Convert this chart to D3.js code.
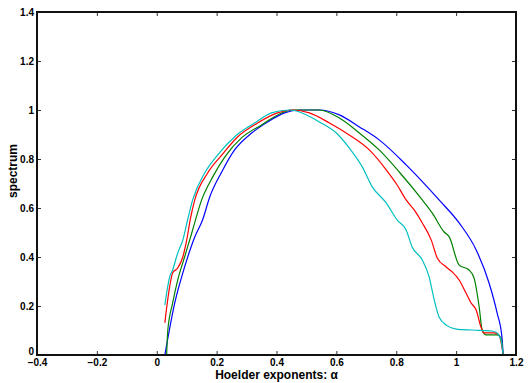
<!DOCTYPE html>
<html>
<head>
<meta charset="utf-8">
<script src="https://cdn.jsdelivr.net/npm/d3@7"></script>
<style>
  body { margin: 0; background: #fff; }
  svg { display: block; font-family: "Liberation Sans", Arial, sans-serif; }
  .axis text { font-size: 10px; font-weight: bold; fill: #000; }
  .axis path { display: none; }
  .axis line { stroke: #333; }
  .axis-title { font-size: 12px; font-weight: bold; fill: #000; }
</style>
</head>
<body>
<div id="chart"></div>
<script>
// tick labels
const xTicks = [-0.4, -0.2, 0, 0.2, 0.4, 0.6, 0.8, 1, 1.2];
const yTicks = [0, 0.2, 0.4, 0.6, 0.8, 1, 1.2, 1.4];

// series (alpha, spectrum)
const blueX = [0.027, 0.06, 0.093, 0.127, 0.153, 0.177, 0.217, 0.26, 0.317, 0.37, 0.427, 0.477, 0.543, 0.61, 0.677, 0.743, 0.833, 0.943, 1.01, 1.067, 1.11, 1.137, 1.153, 1.157];
const blueY = [0, 0.212, 0.359, 0.482, 0.551, 0.645, 0.747, 0.837, 0.906, 0.951, 0.988, 1.0, 1.0, 0.98, 0.931, 0.878, 0.776, 0.633, 0.539, 0.429, 0.294, 0.171, 0.073, 0];

const greenX = [0.033, 0.037, 0.053, 0.07, 0.093, 0.117, 0.15, 0.187, 0.227, 0.283, 0.35, 0.427, 0.453, 0.543, 0.61, 0.677, 0.743, 0.81, 0.887, 0.92, 0.96, 0.977, 1.01, 1.043, 1.06, 1.077, 1.087, 1.1, 1.137, 1.15, 1.157];
const greenY = [0, 0.102, 0.212, 0.306, 0.4, 0.498, 0.633, 0.727, 0.808, 0.886, 0.939, 0.993, 1.0, 1.0, 0.967, 0.906, 0.837, 0.747, 0.633, 0.58, 0.502, 0.482, 0.367, 0.347, 0.314, 0.196, 0.102, 0.082, 0.082, 0.069, 0];

const redX = [0.027, 0.033, 0.043, 0.053, 0.07, 0.087, 0.1, 0.113, 0.127, 0.17, 0.217, 0.27, 0.337, 0.403, 0.453, 0.51, 0.577, 0.643, 0.71, 0.767, 0.803, 0.833, 0.86, 0.887, 0.917, 0.937, 0.967, 0.987, 1.01, 1.033, 1.05, 1.067, 1.083, 1.093, 1.127, 1.143, 1.157];
const redY = [0.131, 0.192, 0.278, 0.335, 0.355, 0.4, 0.469, 0.56, 0.633, 0.743, 0.816, 0.89, 0.947, 0.988, 1.0, 0.988, 0.947, 0.898, 0.837, 0.755, 0.694, 0.633, 0.592, 0.539, 0.469, 0.396, 0.359, 0.339, 0.306, 0.253, 0.212, 0.184, 0.114, 0.09, 0.09, 0.082, 0];

const cyanX = [0.027, 0.033, 0.043, 0.053, 0.07, 0.087, 0.103, 0.12, 0.16, 0.203, 0.267, 0.327, 0.383, 0.443, 0.477, 0.543, 0.6, 0.643, 0.687, 0.72, 0.767, 0.803, 0.833, 0.853, 0.887, 0.91, 0.927, 0.943, 0.967, 1.0, 1.053, 1.12, 1.137, 1.15, 1.157];
const cyanY = [0.204, 0.253, 0.318, 0.347, 0.416, 0.469, 0.551, 0.633, 0.743, 0.816, 0.898, 0.947, 0.988, 1.0, 0.992, 0.951, 0.906, 0.845, 0.767, 0.686, 0.62, 0.551, 0.51, 0.441, 0.388, 0.318, 0.224, 0.155, 0.122, 0.106, 0.102, 0.098, 0.09, 0.061, 0];

const seriesX = [blueX, greenX, redX, cyanX];
const seriesY = [blueY, greenY, redY, cyanY];
const seriesColors = ['#0000ff', '#008000', '#ff0000', '#00bfbf'];

const width = 530, height = 383;
const margin = {top: 12, right: 14, bottom: 28, left: 37};
const w = width - margin.left - margin.right;
const h = height - margin.top - margin.bottom;

const svg = d3.select('#chart').append('svg')
    .attr('width', width)
    .attr('height', height);

const chart = svg.append('g')
    .attr('transform', `translate(${margin.left},${margin.top})`);

const x = d3.scaleLinear().domain([-0.4, 1.2]).range([0, w]);
const y = d3.scaleLinear().domain([0, 1.4]).range([h, 0]);

const fmt = d => d3.format('')(+d.toFixed(1));

// bottom and left axes with inward ticks
chart.append('g')
    .attr('class', 'axis')
    .attr('transform', `translate(0,${h})`)
    .call(d3.axisBottom(x).tickValues(xTicks).tickFormat(fmt).tickSize(-4).tickPadding(4));

const yAxisG = chart.append('g')
    .attr('class', 'axis')
    .call(d3.axisLeft(y).tickValues(yTicks).tickFormat(fmt).tickSize(-4).tickPadding(3));

// the 0 label sits just above the -0.4 label, as in matlab
yAxisG.selectAll('.tick')
    .filter(d => d === 0)
    .select('text')
    .attr('dy', '-0.05em');

// top and right ticks, no labels
chart.append('g')
    .attr('class', 'axis')
    .call(d3.axisTop(x).tickValues(xTicks).tickFormat('').tickSize(-4));

chart.append('g')
    .attr('class', 'axis')
    .attr('transform', `translate(${w},0)`)
    .call(d3.axisRight(y).tickValues(yTicks).tickFormat('').tickSize(-4));

// curves
const line = d3.line()
    .x(d => x(d[0]))
    .y(d => y(d[1]))
    .curve(d3.curveMonotoneX);

seriesX.forEach((xs, i) => {
  chart.append('path')
      .datum(xs.map((v, j) => [v, seriesY[i][j]]))
      .attr('fill', 'none')
      .attr('stroke', seriesColors[i])
      .attr('stroke-width', 1.2)
      .attr('d', line);
});

// box
chart.append('rect')
    .attr('width', w)
    .attr('height', h)
    .attr('fill', 'none')
    .attr('stroke', '#111')
    .attr('stroke-width', 2);

// axis titles
chart.append('text')
    .attr('class', 'axis-title')
    .attr('x', w / 2)
    .attr('y', h + 24)
    .style('text-anchor', 'middle')
    .text('Hoelder exponents: α');

chart.append('text')
    .attr('class', 'axis-title')
    .attr('transform', 'rotate(-90)')
    .attr('x', -(171 - margin.top))
    .attr('y', -20)
    .style('text-anchor', 'middle')
    .text('spectrum');
</script>
</body>
</html>
